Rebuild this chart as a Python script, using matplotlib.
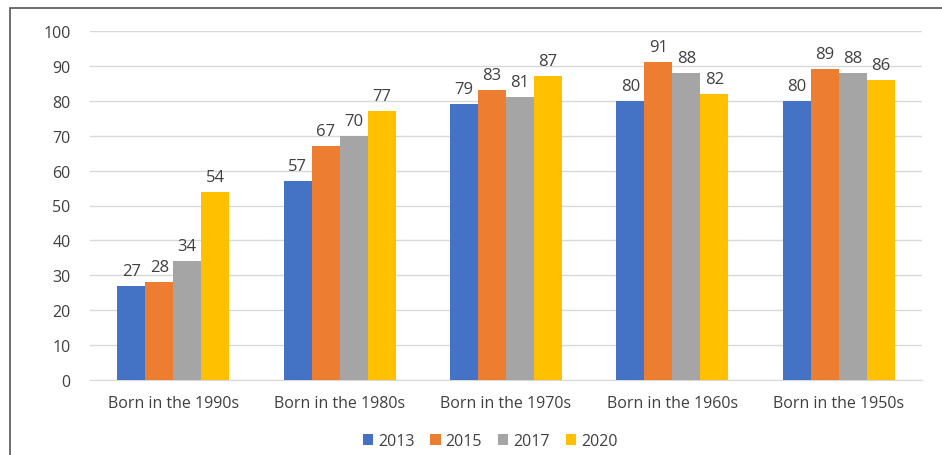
import numpy as np
import matplotlib
matplotlib.use('Agg')
import matplotlib.pyplot as plt
from matplotlib.patches import Rectangle

categories = ['Born in the 1990s', 'Born in the 1980s', 'Born in the 1970s',
              'Born in the 1960s', 'Born in the 1950s']
years = ['2013', '2015', '2017', '2020']
v2013 = [27, 57, 79, 80, 80]
v2015 = [28, 67, 83, 91, 89]
v2017 = [34, 70, 81, 88, 88]
v2020 = [54, 77, 87, 82, 86]
series = [v2013, v2015, v2017, v2020]
colors = ['#4472C4', '#ED7D31', '#A5A5A5', '#FFC000']

plt.rcParams['font.family'] = ['Open Sans', 'DejaVu Sans']
text_col = '#404040'

fig = plt.figure(figsize=(9.42, 4.56), dpi=100)
ax = fig.add_axes([90 / 942, 1 - 381 / 456, 832 / 942, (381 - 32) / 456])

x = np.arange(len(categories))
w = 0.168
for i, (vals, c, yr) in enumerate(zip(series, colors, years)):
    pos = x + (i - 1.5) * w
    bars = ax.bar(pos, vals, width=w, color=c, label=yr, zorder=3)
    for b, v in zip(bars, vals):
        ax.text(b.get_x() + b.get_width() / 2, v + 2, str(v), ha='center', va='bottom',
                fontsize=12, color=text_col)

ax.set_xlim(-0.5, len(categories) - 0.5)
ax.set_ylim(0, 100)
ax.set_yticks(range(0, 101, 10))
ax.set_xticks(x)
ax.set_xticklabels(categories)
ax.yaxis.grid(True, color='#D9D9D9', linewidth=1, zorder=0)
ax.set_axisbelow(True)
for s in ['top', 'right', 'left']:
    ax.spines[s].set_visible(False)
ax.spines['bottom'].set_color('#D9D9D9')
ax.tick_params(axis='both', length=0, labelsize=11.5, colors=text_col)
ax.tick_params(axis='y', pad=14)
ax.tick_params(axis='x', pad=11)

leg = fig.legend(loc='center', bbox_to_anchor=(490 / 942, 1 - 442 / 456), ncol=4,
                 frameon=False, fontsize=11.5, handlelength=0.65, handleheight=0.65,
                 handletextpad=0.3, columnspacing=1.0)
for t in leg.get_texts():
    t.set_color(text_col)

# outer frame
fig.patches.append(Rectangle((10 / 942, -0.1), 1.0, 1 - 9 / 456 + 0.1, transform=fig.transFigure,
                             fill=False, edgecolor='#555555', linewidth=1.2))

fig.savefig('out.png', dpi=100)
